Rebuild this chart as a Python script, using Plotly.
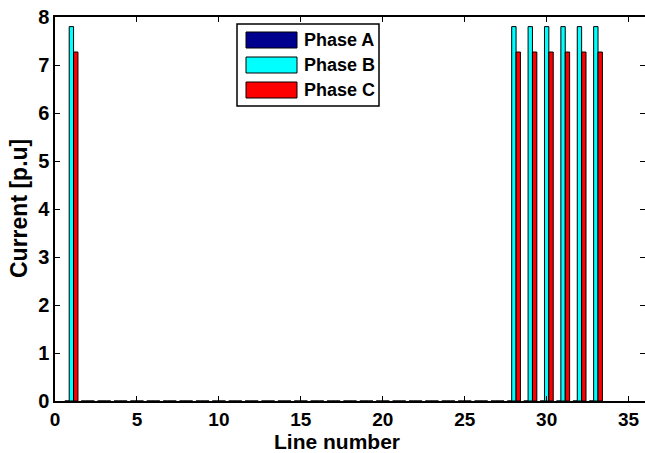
import plotly.graph_objects as go

lines = list(range(1, 34))
faulted = [1, 28, 29, 30, 31, 32, 33]
phase_a = [0.0 for n in lines]
phase_b = [7.8 if n in faulted else 0.0 for n in lines]
phase_c = [7.27 if n in faulted else 0.0 for n in lines]

series_names = ["Phase A", "Phase B", "Phase C"]
series_colors = ["#00008F", "#00FFFF", "#FF0000"]
x_ticks = [0, 5, 10, 15, 20, 25, 30, 35]
y_ticks = [0, 1, 2, 3, 4, 5, 6, 7, 8]

FONT = "Liberation Sans, Arial, sans-serif"

fig = go.Figure()
for name, vals, col in zip(series_names, [phase_a, phase_b, phase_c], series_colors):
    fig.add_trace(go.Bar(x=lines, y=vals, name=name, marker=dict(color=col, line=dict(color="black", width=1)),
                         showlegend=False))

W, H = 645, 453
L, R, T, B = 55, 0, 17, 52
pw, ph = W - L - R, H - T - B


def px(x):
    return (x - L) / pw


def py(y):
    return (H - B - y) / ph


shapes = []
annotations = []
# custom legend box
shapes.append(dict(type="rect", xref="paper", yref="paper", x0=px(237), x1=px(379), y0=py(106), y1=py(24),
                   line=dict(color="black", width=1.5), fillcolor="white", layer="above"))
rows = [(32, 48), (57, 73), (82, 98)]
for (y0, y1), name, col in zip(rows, series_names, series_colors):
    shapes.append(dict(type="rect", xref="paper", yref="paper", x0=px(246), x1=px(297), y0=py(y1), y1=py(y0),
                       line=dict(color="black", width=1), fillcolor=col, layer="above"))
    annotations.append(dict(xref="paper", yref="paper", x=px(302), y=py((y0 + y1) / 2), text=name,
                            showarrow=False, xanchor="left", yanchor="middle",
                            font=dict(family=FONT, size=18, color="black", weight="bold")))

# axis titles as annotations for precise placement
annotations.append(dict(xref="paper", yref="paper", x=px(337), y=py(441), text="Line number",
                        showarrow=False, xanchor="center", yanchor="middle", borderpad=0,
                        font=dict(family=FONT, size=21, color="black", weight="bold")))
annotations.append(dict(xref="paper", yref="paper", x=px(19), y=py(209), text="Current [p.u]",
                        showarrow=False, xanchor="center", yanchor="middle", textangle=-90, borderpad=0,
                        font=dict(family=FONT, size=23, color="black", weight="bold")))

fig.update_layout(
    width=W, height=H,
    margin=dict(l=L, r=R, t=T, b=B, autoexpand=False),
    paper_bgcolor="white", plot_bgcolor="white",
    barmode="group", bargap=0.2, bargroupgap=0,
    shapes=shapes, annotations=annotations,
    font=dict(family=FONT, color="black"),
)
fig.update_xaxes(range=[0, 36], tickvals=x_ticks, ticks="inside", ticklen=5, tickcolor="black",
                 showline=True, linecolor="black", linewidth=1.5, mirror="allticks", showgrid=False,
                 zeroline=False, automargin=False, tickfont=dict(family=FONT, size=19, weight="bold"))
fig.update_yaxes(range=[0, 8], tickvals=y_ticks, ticks="inside", ticklen=5, tickcolor="black",
                 showline=True, linecolor="black", linewidth=1.5, mirror="allticks", showgrid=False,
                 zeroline=False, automargin=False, tickfont=dict(family=FONT, size=20, weight="bold"))

fig.write_html("out.html", config={"displayModeBar": False},
               post_script="document.body.style.margin='0';document.body.style.overflow='hidden';")
